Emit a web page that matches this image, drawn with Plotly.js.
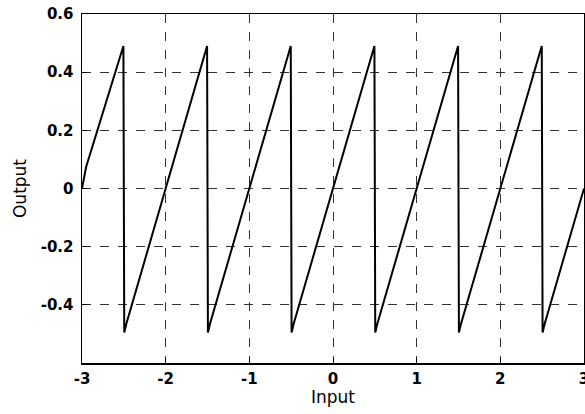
<!DOCTYPE html>
<html><head><meta charset="utf-8">
<script src="https://cdn.plot.ly/plotly-3.0.1.min.js"></script>
<style>html,body{margin:0;padding:0;background:#fff}#c{width:585px;height:414px}</style>
</head><body><div id="c"></div>
<script>
// vertices of the sawtooth output
const inputX = [-3, -2.95, -2.505, -2.495, -2.47, -1.505, -1.495, -1.47, -0.505, -0.495, -0.47, 0.495, 0.505, 0.53, 1.495, 1.505, 1.53, 2.495, 2.505, 2.53, 3];
const outputY = [0, 0.075, 0.49, -0.495, -0.465, 0.49, -0.495, -0.465, 0.49, -0.495, -0.465, 0.49, -0.495, -0.465, 0.49, -0.495, -0.465, 0.49, -0.495, -0.465, 0];
const xTicks = [-3, -2, -1, 0, 1, 2, 3];
const yTicks = [-0.4, -0.2, 0, 0.2, 0.4, 0.6];
const yTickText = ['-0.4', '-0.2', '0', '0.2', '0.4', '0.6'];

const tickFont = {family: 'DejaVu Sans, sans-serif', size: 15, color: '#000', weight: 'bold'};
const titleFont = {family: 'DejaVu Sans, sans-serif', size: 17, color: '#000'};
Plotly.newPlot('c', [{
  x: inputX, y: outputY, type: 'scatter', mode: 'lines',
  line: {color: '#000', width: 2}, hoverinfo: 'skip'
}], {
  width: 585, height: 414,
  margin: {l: 82, r: 1, t: 14, b: 51},
  paper_bgcolor: '#fff', plot_bgcolor: '#fff',
  showlegend: false,
  font: {family: 'DejaVu Sans, sans-serif', color: '#000'},
  xaxis: {
    range: [-3, 3], tickvals: xTicks, ticktext: xTicks.map(String),
    tickfont: tickFont, ticks: 'inside', ticklen: 5, tickcolor: '#000',
    showgrid: true, gridcolor: '#333', griddash: 'dash', gridwidth: 1,
    zeroline: false, showline: true, linecolor: '#000', linewidth: 1.5, mirror: true,
    title: {text: 'Input', font: titleFont, standoff: 1},
    ticklabelstandoff: 1, ticklabeloverflow: 'allow'
  },
  yaxis: {
    range: [-0.6, 0.6], tickvals: yTicks, ticktext: yTickText,
    tickfont: tickFont, ticks: 'inside', ticklen: 5, tickcolor: '#000',
    showgrid: true, gridcolor: '#333', griddash: 'dash', gridwidth: 1,
    zeroline: false, showline: true, linecolor: '#000', linewidth: 1.5, mirror: true,
    title: {text: 'Output', font: titleFont, standoff: 9},
    ticklabelstandoff: 4
  }
}, {displayModeBar: false, staticPlot: true});
</script></body></html>
